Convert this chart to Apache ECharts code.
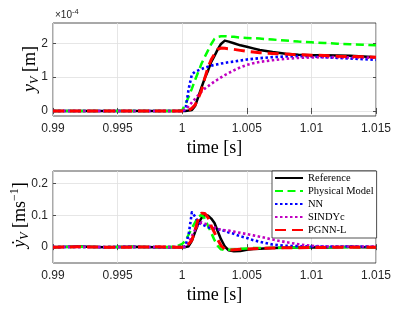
<!DOCTYPE html>
<html><head><meta charset="utf-8">
<script src="https://cdn.jsdelivr.net/npm/echarts@6/dist/echarts.min.js"></script>
<style>html,body{margin:0;padding:0;background:#fff}#c{width:415px;height:312px}</style>
</head><body><div id="c"></div>
<script>
// ---- data ----
const time = [0.99, 0.992, 0.994, 0.996, 0.998, 0.9995, 1.0, 1.00025, 1.0005, 1.00075, 1.001, 1.00125, 1.0015, 1.00175, 1.002, 1.00225, 1.0025, 1.00275, 1.003, 1.0033, 1.0036, 1.004, 1.0045, 1.005, 1.0055, 1.006, 1.007, 1.008, 1.009, 1.01, 1.011, 1.012, 1.013, 1.014, 1.015];

// top panel: position y_V (x 1e-4 m)
const posRef   = [0,0,0,0,0,0,0, 0, 0.01, 0.03, 0.15, 0.42, 0.7, 0.97, 1.19, 1.45, 1.63, 1.82, 1.98, 2.08, 2.05, 2.0, 1.94, 1.9, 1.85, 1.8, 1.74, 1.69, 1.66, 1.65, 1.65, 1.64, 1.63, 1.61, 1.59];
const posPhys  = [0,0,0,0,0,0,0.02, 0.2, 0.42, 0.66, 0.92, 1.16, 1.4, 1.6, 1.79, 1.98, 2.13, 2.19, 2.21, 2.21, 2.2, 2.19, 2.17, 2.16, 2.15, 2.14, 2.11, 2.08, 2.05, 2.03, 2.01, 1.99, 1.97, 1.96, 1.94];
const posNN    = [0,0,0,0,0,0,0, 0.03, 0.65, 1.08, 1.16, 1.2, 1.24, 1.28, 1.31, 1.34, 1.36, 1.38, 1.4, 1.42, 1.44, 1.46, 1.49, 1.52, 1.54, 1.56, 1.59, 1.61, 1.62, 1.61, 1.59, 1.57, 1.55, 1.53, 1.51];
const posSINDy = [0,0,0,0,0,0,0, 0.05, 0.14, 0.25, 0.36, 0.47, 0.57, 0.66, 0.73, 0.8, 0.87, 0.93, 0.99, 1.06, 1.12, 1.2, 1.29, 1.36, 1.41, 1.45, 1.5, 1.54, 1.57, 1.58, 1.59, 1.59, 1.58, 1.58, 1.57];
const posPGNN  = [0,0,0,0,0,0,0, 0, 0.02, 0.08, 0.18, 0.38, 0.62, 0.97, 1.29, 1.52, 1.68, 1.82, 1.86, 1.85, 1.84, 1.82, 1.79, 1.76, 1.74, 1.72, 1.7, 1.68, 1.66, 1.65, 1.64, 1.62, 1.61, 1.6, 1.59];

// bottom panel: velocity (m/s)
const velRef   = [0, 0.002, 0, 0.001, 0, 0, 0, 0, 0.003, 0.02, 0.048, 0.075, 0.092, 0.102, 0.099, 0.09, 0.076, 0.05, 0.025, 0.002, -0.01, -0.013, -0.012, -0.008, -0.006, -0.005, -0.003, -0.002, -0.001, 0, -0.001, 0, 0.001, 0, 0];
const velPhys  = [0, 0.001, 0, 0.001, 0, 0.001, 0.01, 0.02, 0.04, 0.06, 0.078, 0.096, 0.102, 0.09, 0.067, 0.045, 0.022, 0.004, -0.007, -0.009, -0.008, -0.007, -0.005, -0.004, -0.003, -0.003, -0.002, -0.001, -0.001, 0, 0, 0, 0, 0, 0];
const velNN    = [0, 0.001, 0, 0.001, 0, 0, 0, 0.003, 0.04, 0.11, 0.096, 0.077, 0.072, 0.068, 0.063, 0.06, 0.058, 0.056, 0.055, 0.051, 0.046, 0.042, 0.034, 0.029, 0.022, 0.017, 0.008, 0.004, 0.003, 0.002, 0.002, 0.002, 0.002, 0.002, 0.001];
const velSINDy = [0, 0.001, 0, 0.001, 0, 0, 0, 0.002, 0.012, 0.035, 0.055, 0.07, 0.078, 0.074, 0.07, 0.066, 0.062, 0.058, 0.055, 0.053, 0.052, 0.049, 0.045, 0.041, 0.037, 0.033, 0.024, 0.016, 0.009, 0.004, 0.002, 0.002, 0.002, 0.002, 0.002];
const velPGNN  = [0, 0.001, 0, 0, 0.001, 0, 0, 0, 0.01, 0.022, 0.055, 0.09, 0.107, 0.106, 0.093, 0.066, 0.046, 0.024, 0.005, -0.006, -0.009, -0.008, -0.007, -0.006, -0.005, -0.004, -0.003, -0.002, -0.002, -0.001, -0.001, 0, 0, 0, 0];

const seriesNames = ['Reference', 'Physical Model', 'NN', 'SINDYc', 'PGNN-L'];
const xTicks = [0.99, 0.995, 1, 1.005, 1.01, 1.015];
const xTickLabels = ['0.99', '0.995', '1', '1.005', '1.01', '1.015'];
const posTicks = [0, 1, 2];
const posTickLabels = ['0', '1', '2'];
const velTicks = [0, 0.1, 0.2];
const velTickLabels = ['0', '0.1', '0.2'];

// ---- styles ----
const styles = [
  {color: '#000000', width: 2.5, type: 'solid'},
  {color: '#00ff00', width: 2.5, type: [8, 4.5]},
  {color: '#0000ff', width: 2.6, type: [2.5, 2.5]},
  {color: '#c000c0', width: 2.6, type: [2.5, 2.5]},
  {color: '#ff0000', width: 3, type: [11, 6]}
];
const AX = '#262626';
const FONT_SANS = 'Liberation Sans, Arial, sans-serif';
const FONT_SERIF = 'Liberation Serif, DejaVu Serif, serif';

function lab(ticks, labels) {
  return v => { const i = ticks.findIndex(t => Math.abs(t - v) < 1e-9); return i >= 0 ? labels[i] : ''; };
}

const grids = [
  {left: 53, top: 23, width: 323, height: 93},
  {left: 53, top: 171, width: 323, height: 92}
];
const yRanges = [[-0.15, 2.6], [-0.05, 0.24]];
const yTickSets = [[posTicks, posTickLabels], [velTicks, velTickLabels]];

const xAxis = [], yAxis = [];
grids.forEach((g, gi) => {
  xAxis.push({
    type: 'value', gridIndex: gi, min: 0.99, max: 1.015,
    axisLine: {show: false},
    axisTick: {show: true, inside: true, length: 3, customValues: xTicks, lineStyle: {color: AX, width: 0.8}},
    axisLabel: {show: true, customValues: xTicks, formatter: lab(xTicks, xTickLabels), margin: 7,
      fontFamily: FONT_SANS, fontSize: 12, color: AX},
    splitLine: {show: true, lineStyle: {color: '#e0e0e0', width: 0.8}}
  });
  xAxis.push({
    type: 'value', gridIndex: gi, min: 0.99, max: 1.015, position: 'top',
    axisLine: {show: false},
    axisTick: {show: true, inside: true, length: 3, customValues: xTicks, lineStyle: {color: AX, width: 0.8}},
    axisLabel: {show: false}, splitLine: {show: false}
  });
  const [tk, tl] = yTickSets[gi];
  yAxis.push({
    type: 'value', gridIndex: gi, min: yRanges[gi][0], max: yRanges[gi][1],
    axisLine: {show: false},
    axisTick: {show: true, inside: true, length: 3, customValues: tk, lineStyle: {color: AX, width: 0.8}},
    axisLabel: {show: true, customValues: tk, formatter: lab(tk, tl), margin: 5,
      fontFamily: FONT_SANS, fontSize: 12, color: AX},
    splitLine: {show: true, lineStyle: {color: '#e0e0e0', width: 0.8}}
  });
  yAxis.push({
    type: 'value', gridIndex: gi, min: yRanges[gi][0], max: yRanges[gi][1], position: 'right',
    axisLine: {show: false},
    axisTick: {show: true, inside: true, length: 3, customValues: tk, lineStyle: {color: AX, width: 0.8}},
    axisLabel: {show: false}, splitLine: {show: false}
  });
});

const topData = [posRef, posPhys, posNN, posSINDy, posPGNN];
const botData = [velRef, velPhys, velNN, velSINDy, velPGNN];
const series = [];
[topData, botData].forEach((set, gi) => {
  set.forEach((arr, i) => {
    series.push({
      type: 'line', name: seriesNames[i], xAxisIndex: gi * 2, yAxisIndex: gi * 2,
      data: time.map((t, k) => [t, arr[k]]),
      symbol: 'none', showSymbol: false, smooth: false, silent: true, z: 2 + i,
      lineStyle: {color: styles[i].color, width: styles[i].width, type: styles[i].type, cap: 'butt', join: 'round'},
      itemStyle: {color: styles[i].color}
    });
  });
});

const option = {
  animation: false,
  backgroundColor: '#fff',
  grid: grids.map(g => Object.assign({show: true, borderColor: AX, borderWidth: 0.8, backgroundColor: '#fff'}, g)),
  xAxis, yAxis, series,
  legend: {
    data: seriesNames, orient: 'vertical', left: 272, top: 171,
    itemWidth: 28, itemHeight: 12, itemGap: 1,
    padding: [1, 3, 2, 2], backgroundColor: '#fff', borderColor: AX, borderWidth: 0.8, borderRadius: 0,
    itemStyle: {opacity: 0},
    textStyle: {fontFamily: FONT_SERIF, fontSize: 10.5, color: '#000', lineHeight: 12},
    selectedMode: false
  },
  graphic: [
    {type: 'text', left: 55, top: 8, silent: true,
     style: {text: '{a|×10}{b|-4}', rich: {
       a: {fontFamily: FONT_SANS, fontSize: 10, lineHeight: 14, fill: AX, verticalAlign: 'middle'},
       b: {fontFamily: FONT_SANS, fontSize: 7.5, lineHeight: 7, fill: AX, verticalAlign: 'top'}}}},
    {type: 'text', x: 30, y: 69, rotation: Math.PI / 2, silent: true,
     style: {text: '{y|y}{s|V}{n| [m]}', textAlign: 'center', textVerticalAlign: 'middle', rich: {
       y: {fontFamily: FONT_SERIF, fontStyle: 'italic', fontSize: 18, lineHeight: 22, fill: '#000'},
       s: {fontFamily: FONT_SERIF, fontStyle: 'italic', fontSize: 12, lineHeight: 12, fill: '#000', verticalAlign: 'bottom'},
       n: {fontFamily: FONT_SERIF, fontSize: 18, lineHeight: 22, fill: '#000'}}}},
    {type: 'text', x: 20, y: 215, rotation: Math.PI / 2, silent: true,
     style: {text: '{y|ẏ}{s|V}{n| [ms}{p|−1}{n|]}', textAlign: 'center', textVerticalAlign: 'middle', rich: {
       y: {fontFamily: FONT_SERIF, fontStyle: 'italic', fontSize: 18, lineHeight: 22, fill: '#000'},
       s: {fontFamily: FONT_SERIF, fontStyle: 'italic', fontSize: 12, lineHeight: 12, fill: '#000', verticalAlign: 'bottom'},
       n: {fontFamily: FONT_SERIF, fontSize: 18, lineHeight: 22, fill: '#000'},
       p: {fontFamily: FONT_SERIF, fontSize: 12, lineHeight: 12, fill: '#000', verticalAlign: 'top'}}}},
    {type: 'text', x: 214.5, y: 148, silent: true,
     style: {text: 'time [s]', textAlign: 'center', textVerticalAlign: 'middle', fontFamily: FONT_SERIF, fontSize: 18, fill: '#000'}},
    {type: 'text', x: 214.5, y: 295, silent: true,
     style: {text: 'time [s]', textAlign: 'center', textVerticalAlign: 'middle', fontFamily: FONT_SERIF, fontSize: 18, fill: '#000'}}
  ]
};
const chart = echarts.init(document.getElementById('c'), null, {renderer: 'canvas'});
chart.setOption(option);
</script>
</body></html>
